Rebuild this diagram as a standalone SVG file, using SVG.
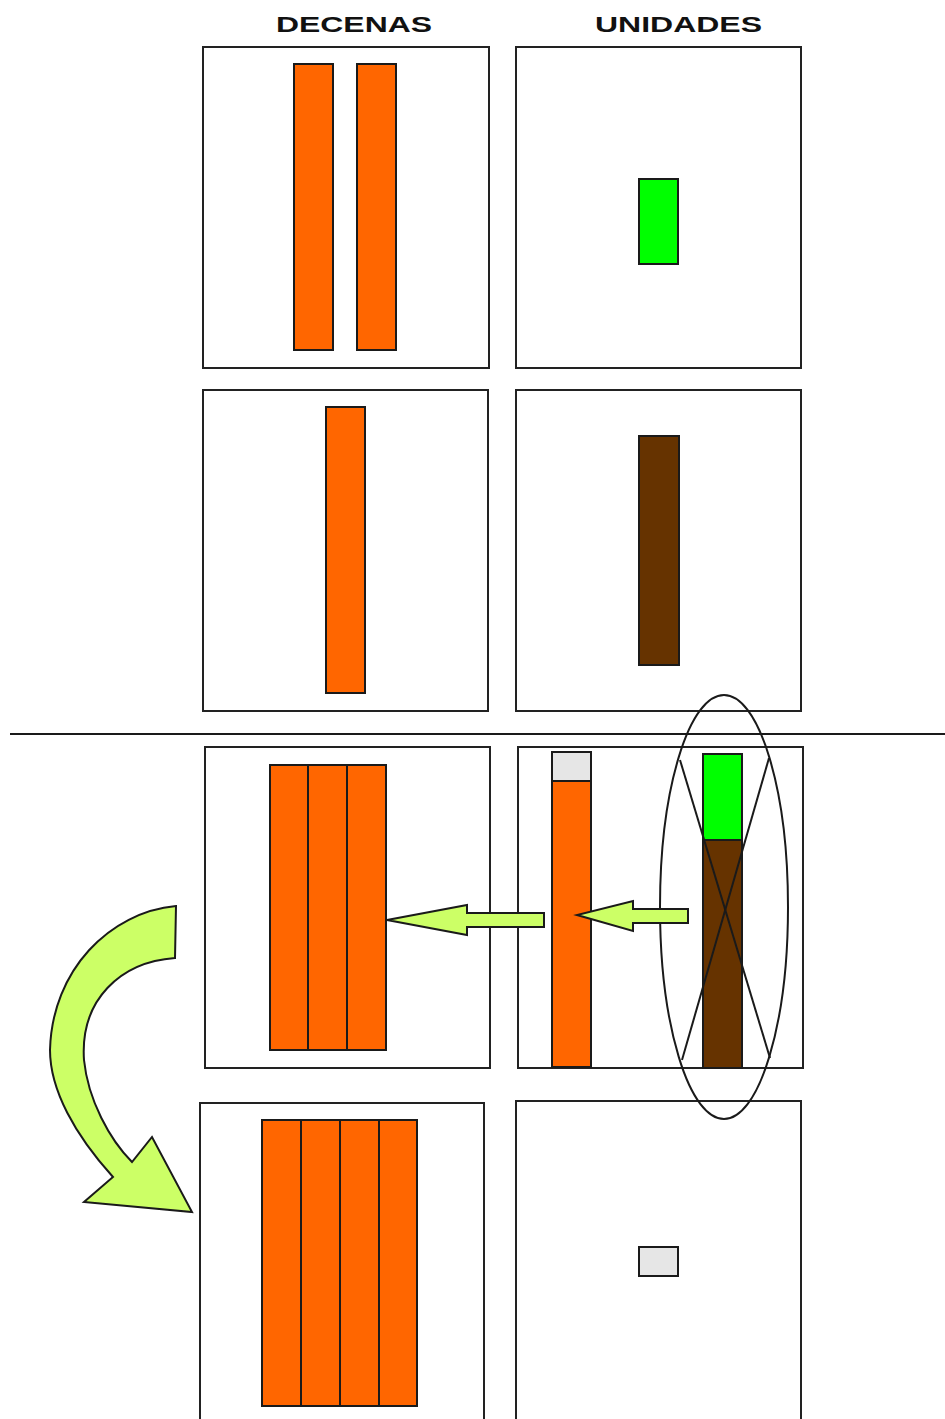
<svg xmlns="http://www.w3.org/2000/svg" width="945" height="1419" viewBox="0 0 945 1419">
  <style>
    .box { fill: #ffffff; stroke: #222222; stroke-width: 2; }
    .bar { stroke: #1a1a1a; stroke-width: 2; }
    .ten { fill: #ff6600; }
    .one { fill: #00ff00; }
    .nine { fill: #663300; }
    .empty { fill: #e6e6e6; }
    .arrow { fill: #ccff66; stroke: #1a1a1a; stroke-width: 2; stroke-linejoin: miter; }
    .line { fill: none; stroke: #1a1a1a; stroke-width: 2; }
    .head { font-family: "Liberation Sans", Arial, sans-serif; font-weight: bold; font-size: 22px; fill: #111111; }
  </style>
  <rect width="945" height="1419" fill="#ffffff"/>

  <!-- column headers -->
  <g id="headers">
    <text class="head" x="276" y="32" textLength="156" lengthAdjust="spacingAndGlyphs">DECENAS</text>
    <text class="head" x="595" y="32" textLength="167" lengthAdjust="spacingAndGlyphs">UNIDADES</text>
  </g>

  <!-- row 1: 2 tens, 1 unit -->
  <g id="r1-tens">
    <rect class="box" x="203" y="47" width="286" height="321"/>
    <rect class="bar ten" x="294" y="64" width="39" height="286"/>
    <rect class="bar ten" x="357" y="64" width="39" height="286"/>
  </g>
  <g id="r1-units">
    <rect class="box" x="516" y="47" width="285" height="321"/>
    <rect class="bar one" x="639" y="179" width="39" height="85"/>
  </g>

  <!-- row 2: 1 ten, 9 units -->
  <g id="r2-tens">
    <rect class="box" x="203" y="390" width="285" height="321"/>
    <rect class="bar ten" x="326" y="407" width="39" height="286"/>
  </g>
  <g id="r2-units">
    <rect class="box" x="516" y="390" width="285" height="321"/>
    <rect class="bar nine" x="639" y="436" width="40" height="229"/>
  </g>

  <!-- result separator -->
  <line id="separator" class="line" x1="10" y1="734" x2="945" y2="734"/>

  <!-- row 3: regrouping -->
  <g id="r3-tens">
    <rect class="box" x="205" y="747" width="285" height="321"/>
    <rect class="bar ten" x="270" y="765" width="38" height="285"/>
    <rect class="bar ten" x="308" y="765" width="39" height="285"/>
    <rect class="bar ten" x="347" y="765" width="39" height="285"/>
  </g>
  <g id="r3-units">
    <rect class="box" x="518" y="747" width="285" height="321"/>
    <rect class="bar empty" x="552" y="752" width="39" height="29"/>
    <rect class="bar ten" x="552" y="781" width="39" height="286"/>
    <rect class="bar one" x="703" y="754" width="39" height="86"/>
    <rect class="bar nine" x="703" y="840" width="39" height="228"/>
  </g>

  <!-- row 4: result -->
  <g id="r4-tens">
    <rect class="box" x="200" y="1103" width="284" height="330"/>
    <rect class="bar ten" x="262" y="1120" width="39" height="286"/>
    <rect class="bar ten" x="301" y="1120" width="39" height="286"/>
    <rect class="bar ten" x="340" y="1120" width="39" height="286"/>
    <rect class="bar ten" x="379" y="1120" width="38" height="286"/>
  </g>
  <g id="r4-units">
    <rect class="box" x="516" y="1101" width="285" height="330"/>
    <rect class="bar empty" x="639" y="1247" width="39" height="29"/>
  </g>

  <!-- connectors -->
  <g id="connectors">
    <ellipse class="line" cx="724" cy="907" rx="64" ry="212"/>
    <line class="line" x1="680" y1="760" x2="770" y2="1058"/>
    <line class="line" x1="769" y1="758" x2="682" y2="1060"/>
    <path class="arrow" d="M688,909 L633,909 L633,901 L577,915 L633,931 L633,923 L688,923 Z"/>
    <path class="arrow" d="M544,913 L467,913 L467,905 L387,920 L467,935 L467,927 L544,927 Z"/>
    <path class="arrow" d="M176,906 L175,958 C120,962 80,1000 84,1060 C88,1100 110,1140 132,1162 L152,1137 L192,1212 L84,1202 L113,1177 C75,1135 50,1090 50,1050 C52,970 110,912 176,906 Z"/>
  </g>
</svg>
